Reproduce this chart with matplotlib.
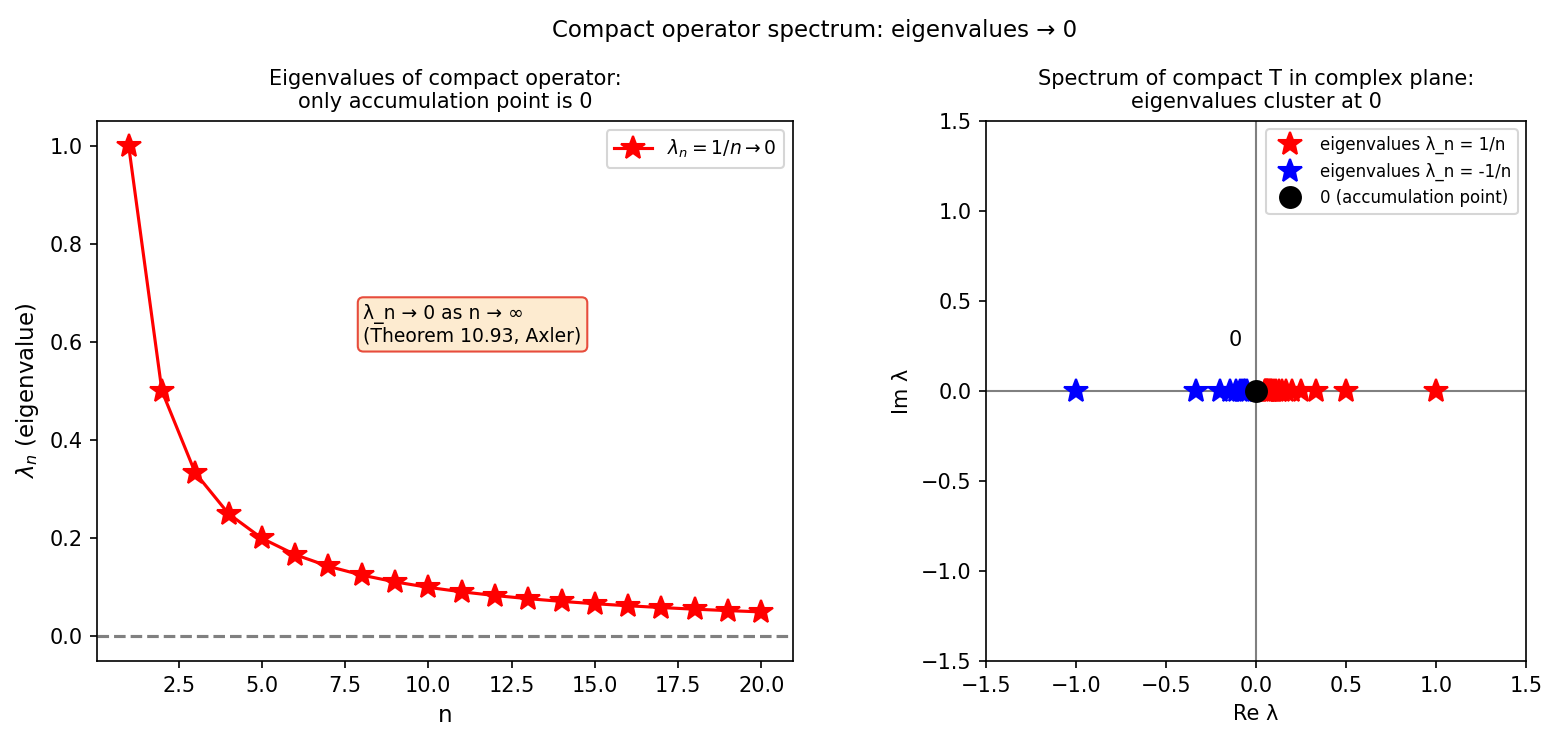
import numpy as np
import matplotlib

matplotlib.use("Agg")
import matplotlib.pyplot as plt

# eigenvalues lambda_n = 1/n, n = 1..20
n_vals = np.arange(1, 21)
lam_vals = 1.0 / n_vals

# spectrum points in the complex plane
pos_eigs = 1.0 / np.arange(1, 21)
neg_eigs = -1.0 / np.arange(1, 20, 2)

fig = plt.figure(figsize=(1558 / 150, 742 / 150), dpi=150)
ax1 = fig.add_axes([97 / 1558, 81 / 742, 696 / 1558, 540 / 742])
ax2 = fig.add_axes([986 / 1558, 81 / 742, 540 / 1558, 540 / 742])

# left: decay of eigenvalues
ax1.plot(n_vals, lam_vals, "r-*", markersize=12, label=r"$\lambda_n = 1/n \to 0$")
ax1.axhline(0, color="gray", linestyle="--")
ax1.set_xlabel("n", fontsize=11)
ax1.set_ylabel(r"$\lambda_n$ (eigenvalue)", fontsize=11)
ax1.set_title("Eigenvalues of compact operator:\nonly accumulation point is 0", fontsize=10)
ax1.legend(loc="upper right", fontsize=9)
ax1.text(8.05, 0.6, "λ_n → 0 as n → ∞\n(Theorem 10.93, Axler)", fontsize=9,
         bbox=dict(boxstyle="round", facecolor="#fdebd0", edgecolor="#e74c3c"))

# right: spectrum in the complex plane
ax2.axhline(0, color="gray", linewidth=1)
ax2.axvline(0, color="gray", linewidth=1)
ax2.plot(pos_eigs, np.zeros_like(pos_eigs), "r*", markersize=12,
         linestyle="none", label="eigenvalues λ_n = 1/n")
ax2.plot(neg_eigs, np.zeros_like(neg_eigs), "b*", markersize=12,
         linestyle="none", label="eigenvalues λ_n = -1/n")
ax2.plot([0], [0], "ko", markersize=10, label="0 (accumulation point)")
ax2.text(-0.15, 0.25, "0", fontsize=10)
ax2.set_xlim(-1.5, 1.5)
ax2.set_ylim(-1.5, 1.5)
ax2.set_aspect("equal")
ax2.set_xlabel("Re λ")
ax2.set_ylabel("Im λ")
ax2.set_title("Spectrum of compact T in complex plane:\neigenvalues cluster at 0", fontsize=10)
ax2.legend(loc="upper right", fontsize=8)

fig.suptitle("Compact operator spectrum: eigenvalues → 0", fontsize=11, x=0.523, y=0.975)
fig.savefig("out.png", dpi=150)
